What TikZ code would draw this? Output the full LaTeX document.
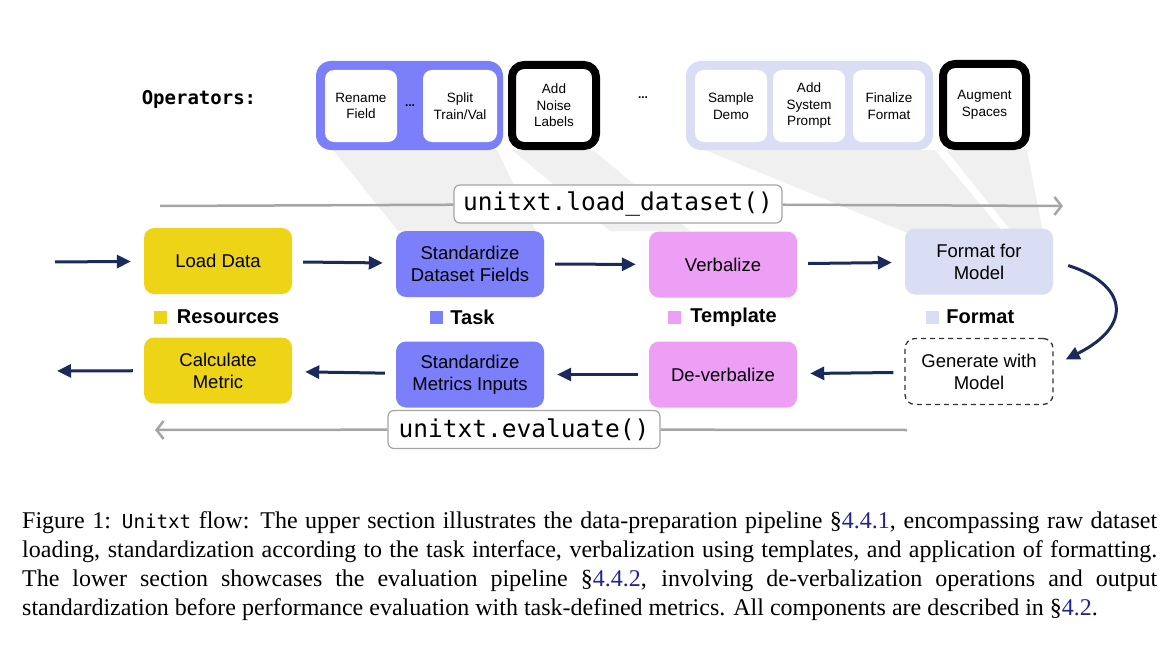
\documentclass[tikz,border=0pt]{standalone}
\usepackage{fontspec}
\setmainfont{Liberation Serif}
\setsansfont{Liberation Sans}
\newfontfamily\codefont{DejaVu Sans Mono}
\newfontfamily\captt{DejaVu Sans Mono}[Scale=0.8]
\usetikzlibrary{arrows.meta,positioning}

\definecolor{resyellow}{RGB}{238,212,22}
\definecolor{taskblue}{RGB}{123,128,250}
\definecolor{tplpink}{RGB}{237,158,245}
\definecolor{fmtlav}{RGB}{217,222,245}
\definecolor{flownavy}{RGB}{26,42,92}
\definecolor{beamgray}{RGB}{240,240,240}
\definecolor{apigray}{RGB}{165,165,165}
\definecolor{refblue}{RGB}{35,35,140}

\begin{document}
\begin{tikzpicture}
  [x=1pt,y=-1pt,
   stage/.style={rounded corners=10pt,minimum width=148pt,minimum height=66pt,inner sep=0pt,
     align=center,font=\sffamily\fontsize{18.5}{22}\selectfont},
   opgroup/.style={rounded corners=15pt,minimum height=89pt,inner sep=0pt},
   opbox/.style={fill=white,rounded corners=9pt,minimum width=72pt,minimum height=72pt,inner sep=0pt,
     align=center,font=\sffamily\fontsize{13.5}{16.5}\selectfont},
   opextra/.style={opbox,draw=black,line width=8pt,rounded corners=12pt,minimum width=84pt,minimum height=81pt},
   flow/.style={draw=flownavy,line width=3pt,-{Triangle[length=14pt,width=13pt]},
     shorten <=11pt,shorten >=13pt},
   apiline/.style={draw=apigray,line width=2.5pt},
   apicall/.style={draw=apigray,line width=1.2pt,fill=white,rounded corners=6pt,inner sep=0pt,
     minimum height=38pt,font=\codefont\fontsize{24.5}{28}\selectfont},
   legbox/.style={minimum size=13pt,inner sep=0pt},
   legtext/.style={inner sep=0pt,font=\sffamily\bfseries\fontsize{20}{24}\selectfont}]

  \useasboundingbox (0,0) rectangle (1171,669);

  % grey beams from the operators down to their stage
  \fill[beamgray] (333,150) -- (497,150) -- (536,231) -- (398,231) -- cycle;
  \fill[beamgray] (512,150) -- (593,150) -- (690,231) -- (610,231) -- cycle;
  \fill[beamgray] (705,150) -- (935,150) -- (1003,232) -- (905,232) -- cycle;
  \fill[beamgray] (946,150) -- (1027,150) -- (1043,232) -- (1012,232) -- cycle;

  % operators
  \node[font=\codefont\bfseries\fontsize{19}{22}\selectfont] (oplabel) at (199,99) {Operators:};
  \node[opgroup,fill=taskblue,minimum width=187pt] (opstd) at (409.5,105.5) {};
  \node[opbox] (rename) at (361,106) {Rename\\Field};
  \node[font=\sffamily\bfseries\fontsize{12}{12}\selectfont] (dotsa) at (410,106) {...};
  \node[opbox,minimum width=74pt] (split) at (460,106) {Split\\Train/Val};
  \node[opextra] (noise) at (554,105.5) {Add\\Noise\\Labels};
  \node[font=\sffamily\bfseries\fontsize{12}{12}\selectfont] (dotsb) at (643,98) {...};
  \node[opgroup,fill=fmtlav,minimum width=247pt] (opfmt) at (809.5,105.5) {};
  \node[opbox] (demo) at (731,106) {Sample\\Demo};
  \node[opbox] (sysprompt) at (809,106) {Add\\System\\Prompt};
  \node[opbox] (finalize) at (889,106) {Finalize\\Format};
  \node[opextra,minimum width=83pt,minimum height=82pt] (augment) at (984.5,105) {Augment\\Spaces};

  % load_dataset call
  \coordinate (loadfrom) at (160,206);
  \coordinate (loadto) at (1063,206);
  \node[apicall,minimum width=328pt] (loadcall) at (618,204) {unitxt.load\_dataset()};
  \draw[apiline] (loadfrom) -- (loadcall);
  \draw[apiline,-{Straight Barb[length=7pt,width=18pt]}] (loadcall) -- (loadto);

  % stages
  \node[stage,fill=resyellow] (load) at (218,261) {Load Data};
  \node[stage,fill=taskblue] (stdds) at (470,264) {Standardize\\Dataset Fields};
  \node[stage,fill=tplpink] (verb) at (723,264.5) {Verbalize};
  \node[stage,fill=fmtlav] (fmt) at (979,261.5) {Format for\\Model};
  \node[stage,fill=resyellow] (calc) at (218,370.5) {Calculate\\Metric};
  \node[stage,fill=taskblue] (stdmi) at (470,374.5) {Standardize\\Metrics Inputs};
  \node[stage,fill=tplpink] (dever) at (723,374.5) {De-verbalize};
  \node[stage,fill=white,draw=black!80,line width=1.3pt,dash pattern=on 5pt off 4pt] (gen) at (979,371.5) {Generate with\\Model};

  % legend
  \node[legbox,fill=resyellow] (resmark) at (160,317) {};
  \node[legtext,right=10pt of resmark] (restext) {Resources};
  \node[legbox,fill=taskblue] (taskmark) at (436.5,317) {};
  \node[legtext,right=7pt of taskmark] (tasktext) {Task};
  \node[legbox,fill=tplpink] (tplmark) at (674.5,317) {};
  \node[legtext,right=9pt of tplmark] (tpltext) {Template};
  \node[legbox,fill=fmtlav] (fmtmark) at (932.5,317) {};
  \node[legtext,right=7pt of fmtmark] (fmttext) {Format};

  % evaluate call
  \coordinate (evalfrom) at (907,430);
  \coordinate (evalto) at (155,430);
  \node[apicall,minimum width=272pt] (evalcall) at (524,429.5) {unitxt.evaluate()};
  \draw[apiline] (evalfrom) -- (evalcall);
  \draw[apiline,-{Straight Barb[length=7pt,width=18pt]}] (evalcall) -- (evalto);

  % flow arrows
  \coordinate (feedin) at (44,262);
  \coordinate (feedout) at (44,371);
  \foreach \from/\to in {feedin/load,load/stdds,stdds/verb,verb/fmt,gen/dever,dever/stdmi,stdmi/calc,calc/feedout}
    \draw[flow] (\from) -- (\to);
  \draw[flow,shorten <=0pt,shorten >=0pt] ([shift={(15,4)}]fmt.east)
    .. controls +(57,18) and +(70,-35) .. ([shift={(12,-12)}]gen.east);

  % caption
  \node[anchor=north west,text width=1135pt,align=justify,inner sep=0pt,
    font=\fontsize{24}{29}\selectfont] (caption) at (22,511)
    {Figure 1: {\captt Unitxt} flow: The upper section illustrates the data-preparation pipeline
     \S\textcolor{refblue}{4.4.1}, encompassing raw dataset\linebreak
     loading, standardization according to the task interface, verbalization using templates, and application of formatting.\linebreak
     The lower section showcases the evaluation pipeline \S\textcolor{refblue}{4.4.2}, involving de-verbalization operations and output\linebreak
     standardization before performance evaluation with task-defined metrics. All components are described in \S\textcolor{refblue}{4.2}.};

\end{tikzpicture}
\end{document}
